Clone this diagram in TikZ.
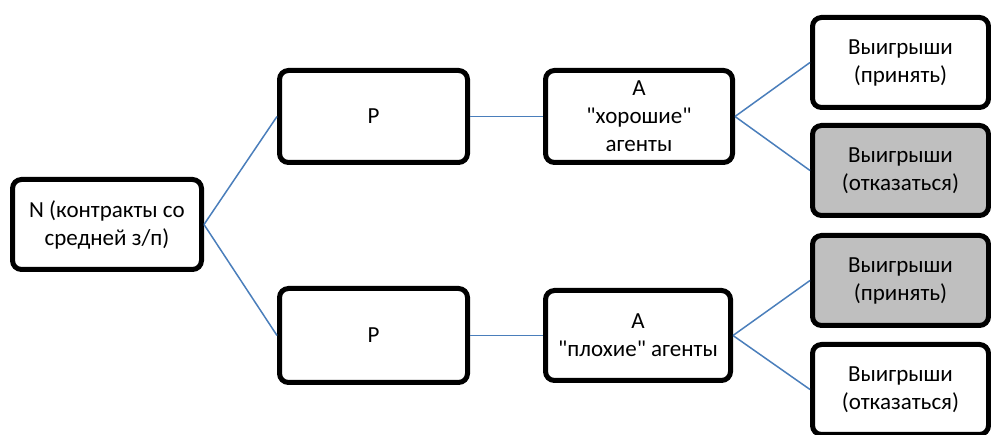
\documentclass[tikz,border=0pt]{standalone}
\usepackage{fontspec}
\setmainfont{Carlito}[Ligatures=TeXOff]
\definecolor{linkblue}{RGB}{74,126,187}
\definecolor{boxgray}{RGB}{191,191,191}
\begin{document}
\begin{tikzpicture}[x=1pt,y=-1pt,
  box/.style={draw=black,line width=5pt,rounded corners=9pt,fill=white,
    align=center,inner sep=0pt,font=\fontsize{23}{28}\selectfont},
  shaded/.style={box,fill=boxgray},
  link/.style={draw=linkblue,line width=1.5pt}]
\useasboundingbox (0,0) rectangle (991,435);
% decision nodes
\node[box,minimum width=189pt,minimum height=90pt] (N) at (107,224.5) {N (контракты со\\средней з/п)};
\node[box,minimum width=188pt,minimum height=92pt] (P1) at (373.5,116.5) {P};
\node[box,minimum width=188pt,minimum height=94pt] (P2) at (373.5,335.5) {P};
\node[box,minimum width=187pt,minimum height=92pt] (A1) at (639,116.5) {A\\"хорошие"\\агенты};
\node[box,minimum width=185pt,minimum height=90pt] (A2) at (638,335.5) {A\\"плохие" агенты};
% payoffs
\node[box,minimum width=176pt,minimum height=90pt] (W1) at (900.5,62.5) {Выигрыши\\(принять)};
\node[shaded,minimum width=176pt,minimum height=90pt] (W2) at (900.5,170.5) {Выигрыши\\(отказаться)};
\node[shaded,minimum width=176pt,minimum height=90pt] (W3) at (900.5,280.5) {Выигрыши\\(принять)};
\node[box,minimum width=176pt,minimum height=90pt] (W4) at (900.5,389.5) {Выигрыши\\(отказаться)};
% branches
\draw[link] (N.east) -- (P1.west);
\draw[link] (N.east) -- (P2.west);
\draw[link] (P1.east) -- (A1.west);
\draw[link] (P2.east) -- (A2.west);
\draw[link] (A1.east) -- (W1.west);
\draw[link] (A1.east) -- (W2.west);
\draw[link] (A2.east) -- (W3.west);
\draw[link] (A2.east) -- (W4.west);
\end{tikzpicture}
\end{document}
